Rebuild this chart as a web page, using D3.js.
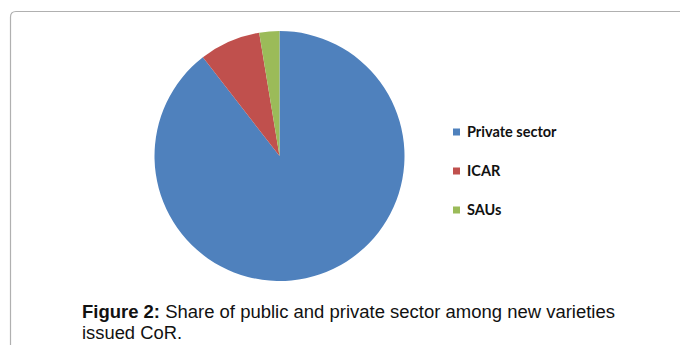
<!DOCTYPE html>
<html>
<head>
<meta charset="utf-8">
<script src="https://cdn.jsdelivr.net/npm/d3@7"></script>
<style>
  html, body { margin: 0; padding: 0; background: #fff; }
  svg { display: block; }
</style>
</head>
<body>
<div id="chart"></div>
<script>
(function() {
    'use strict';

    // data (share of new varieties, %)
    var categories = ["Private sector", "ICAR", "SAUs"];
    var shares = [89.5, 7.9, 2.6];
    var colours = ["#4F81BD", "#C0504D", "#9BBB59"];

    var width = 680, height = 345;
    var cx = 279.5, cy = 156, radius = 125;

    var svg = d3.select("#chart").append("svg")
        .attr("width", width)
        .attr("height", height);

    // chart frame, cut off by the right and bottom edges
    svg.append("path")
        .attr("d", "M10.5," + (height + 5) + " V17 Q10.5,11.5 16,11.5 H" + (width + 5))
        .attr("fill", "none")
        .attr("stroke", "#b0b0b0")
        .attr("stroke-width", 1.2);

    var zScale = d3.scaleOrdinal().domain(categories).range(colours);

    var pieGen = d3.pie().sort(null).value(d => d.value);
    var arcGen = d3.arc().innerRadius(0).outerRadius(radius);

    var slices = pieGen(categories.map((c, i) => ({name: c, value: shares[i]})));

    svg.append("g")
        .attr("transform", "translate(" + cx + "," + cy + ")")
        .selectAll("path")
        .data(slices)
        .enter().append("path")
        .attr("d", arcGen)
        .attr("fill", d => zScale(d.data.name));

    // legend
    var legendY = d3.scalePoint().domain(categories).range([132, 210]);

    var legend = svg.selectAll(".legend")
        .data(categories)
        .enter().append("g")
        .attr("class", "legend")
        .attr("transform", d => "translate(453," + legendY(d) + ")");

    legend.append("rect")
        .attr("x", 0)
        .attr("y", -3.5)
        .attr("width", 7)
        .attr("height", 7)
        .attr("fill", d => zScale(d));

    legend.append("text")
        .attr("x", 14)
        .attr("y", 0)
        .attr("dy", "0.35em")
        .style("font", "bold 14.5px Lato, 'Open Sans', sans-serif")
        .style("fill", "#111")
        .text(d => d);

    // caption (the original is slightly stretched sideways)
    var caption = svg.append("text")
        .attr("x", 82)
        .attr("y", 318)
        .attr("textLength", 533)
        .attr("lengthAdjust", "spacingAndGlyphs")
        .style("font", "17.5px 'Liberation Sans', Arial, sans-serif")
        .style("fill", "#111");
    caption.append("tspan")
        .style("font-weight", "bold")
        .text("Figure 2:");
    caption.append("tspan")
        .text(" Share of public and private sector among new varieties");

    svg.append("text")
        .attr("x", 82)
        .attr("y", 338.5)
        .attr("textLength", 100)
        .attr("lengthAdjust", "spacingAndGlyphs")
        .style("font", "17.5px 'Liberation Sans', Arial, sans-serif")
        .style("fill", "#111")
        .text("issued CoR.");
})();
</script>
</body>
</html>
